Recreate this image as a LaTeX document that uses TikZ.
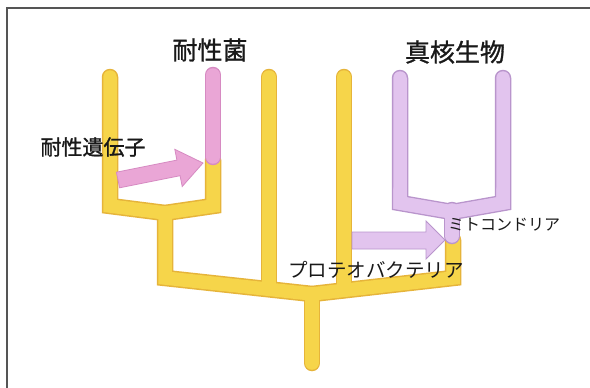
\documentclass[tikz,border=0pt]{standalone}
\usepackage{fontspec}
\newfontfamily\cjk[FakeBold=1.2]{Noto Sans CJK JP}
\newfontfamily\cjkr{Noto Sans CJK JP}
\definecolor{yfill}{HTML}{F6D54A}
\definecolor{yedge}{HTML}{E6B43A}
\definecolor{pfill}{HTML}{EAA6D6}
\definecolor{pedge}{HTML}{D68AC2}
\definecolor{vfill}{HTML}{E2C4EE}
\definecolor{vedge}{HTML}{B995CC}
\definecolor{frame}{HTML}{555555}
\tikzset{
  yout/.style={draw=yedge, line width=16.5pt, line cap=round, line join=miter},
  yin/.style={draw=yfill, line width=13.5pt, line cap=round, line join=miter},
  pout/.style={draw=pedge, line width=16.5pt, line cap=round, line join=miter},
  pin/.style={draw=pfill, line width=13.5pt, line cap=round, line join=miter},
  vout/.style={draw=vedge, line width=16.5pt, line cap=round, line join=miter},
  vin/.style={draw=vfill, line width=13.5pt, line cap=round, line join=miter},
  parrow/.style={fill=pfill, draw=pedge, line width=0.8pt, line join=miter},
  varrow/.style={fill=vfill, draw=vedge, line width=0.8pt, line join=miter},
  title/.style={font=\cjk\fontsize{25}{25}\selectfont, text=black!90, inner sep=0pt},
  lab/.style={text=black!90, inner sep=0pt}
}
\begin{document}
\begin{tikzpicture}[x=1pt, y=-1pt]
\useasboundingbox (0,0) rectangle (590,388);
\fill[white] (0,0) rectangle (590,388);
% frame
\draw[frame, line width=1.6pt] (7,388) -- (7,8) -- (590,8);
% yellow tree
\foreach \s in {yout,yin}{
  \draw[\s] (110,77) -- (110,206) -- (165,213) -- (213,206) -- (213,160);
  \draw[\s] (165,213) -- (165,278) -- (312,294) -- (453,278) -- (453,240);
  \draw[\s] (312,294) -- (312,363);
  \draw[\s] (269,77) -- (269,288);
  \draw[\s] (344,77) -- (344,290);
}
% pink resistant branch
\foreach \s in {pout,pin}{
  \draw[\s] (213,75) -- (213,157);
}
% purple eukaryote branch
\foreach \s in {vout,vin}{
  \draw[\s] (400,78) -- (400,203) -- (452,212) -- (503,203) -- (503,78);
  \draw[\s] (452,210) -- (452,236);
}
\foreach \s in {vin}{
  \draw[\s] (400,190) -- (400,203) -- (452,212) -- (503,203) -- (503,190);
}
% arrows
\draw[parrow] (119.6,187.8) -- (116.4,172.2) -- (176.9,160.1) -- (174.8,149.3)
  -- (203,163) -- (182.2,186.5) -- (180.1,175.7) -- cycle;
\draw[varrow] (352,249) -- (352,232) -- (426,232) -- (426,221) -- (445,240)
  -- (426,259) -- (426,249) -- cycle;
% labels
\node[title] (t1) at (210,50) {耐性菌};
\node[title] (t2) at (455,52) {真核生物};
\node[lab, font=\cjk\fontsize{21}{21}\selectfont] (g) at (93,147) {耐性遺伝子};
\node[lab, font=\cjkr\fontsize{16}{16}\selectfont] (m) at (504,225) {ミトコンドリア};
\node[lab, font=\cjkr\fontsize{19.5}{19.5}\selectfont] (pb) at (376,270) {プロテオバクテリア};
\end{tikzpicture}
\end{document}
